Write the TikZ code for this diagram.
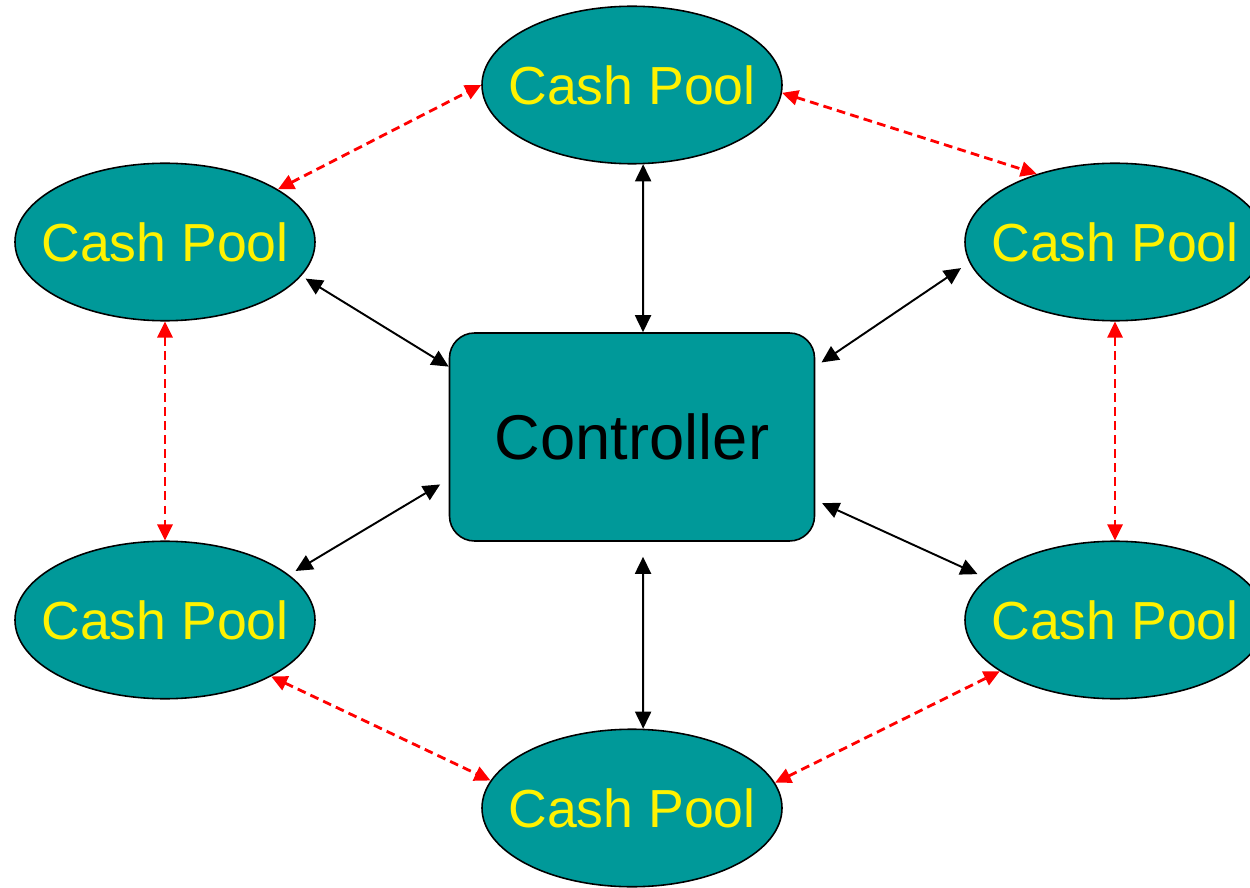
\documentclass[tikz,border=0pt]{standalone}
\usepackage{fontspec}
\setmainfont{Liberation Sans}
\usetikzlibrary{shapes.geometric,arrows.meta}
\definecolor{poolteal}{RGB}{0,153,153}
\newcommand{\cashpool}{\makebox[0pt]{Cash Pool}}
\begin{document}
\begin{tikzpicture}[
        pool/.style={ellipse, draw=black, line width=0.9pt, fill=poolteal,
            minimum width=6cm, minimum height=3.15cm, inner sep=0pt,
            text=yellow, font=\fontsize{30.5}{36}\selectfont},
        ctrlbox/.style={rectangle, rounded corners=0.5cm, draw=black, line width=0.9pt,
            fill=poolteal, minimum width=7.3cm, minimum height=4.16cm,
            font=\fontsize{36}{43}\selectfont},
        link/.style={<->, >={Triangle[length=3.4mm,width=3.2mm]}, line width=1.1pt},
        transfer/.style={<->, >={Triangle[length=3.2mm,width=3mm]},
            red, dash pattern=on 5pt off 3pt, line width=1.6pt}
    ]
        \useasboundingbox (0,0) rectangle (25,-17.76);

        % Controller in the middle
        \node[ctrlbox] (ctrl) at (12.64,-8.74) {Controller};

        % Cash pools around it
        \node[pool] (top) at (12.64,-1.70) {\cashpool};
        \node[pool] (ul) at (3.30,-4.84) {\cashpool};
        \node[pool] (ur) at (22.30,-4.84) {\cashpool};
        \node[pool] (ll) at (3.30,-12.40) {\cashpool};
        \node[pool] (lr) at (22.30,-12.40) {\cashpool};
        \node[pool] (bot) at (12.64,-16.16) {\cashpool};

        % Links to the controller
        \draw[link] (top.-82) -- (ctrl.84);
        \draw[link, shorten <=0.3cm] (ctrl.-84) -- (bot.82);
        \draw[link, shorten <=0.1cm] (ul.-14) -- (ctrl.159);
        \draw[link, shorten <=0.2cm, shorten >=0.15cm] (ur.188) -- (ctrl.21);
        \draw[link, shorten <=0.15cm, shorten >=0.2cm] (ll.20) -- (ctrl.193);
        \draw[link, shorten <=0.15cm, shorten >=0.2cm] (ctrl.-19) -- (lr.162);

        % Transfers between neighbouring pools
        \draw[transfer] (ul.25) -- (top.180);
        \draw[transfer] (top.-3) -- (ur.139);
        \draw[transfer] (ul.south) -- (ll.north);
        \draw[transfer] (ur.south) -- (lr.north);
        \draw[transfer] (ll.-28) -- (bot.169);
        \draw[transfer] (bot.10) -- (lr.204);
    \end{tikzpicture}
\end{document}
